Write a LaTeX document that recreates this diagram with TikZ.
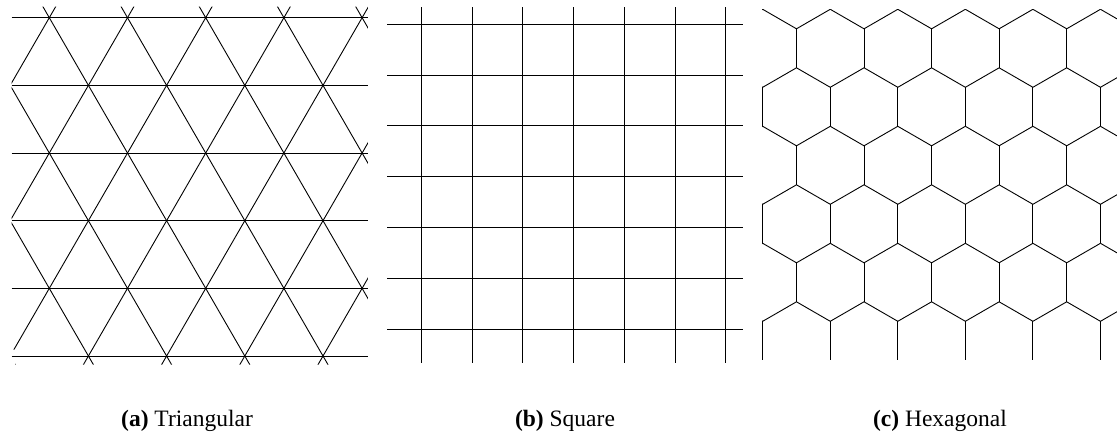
\documentclass[tikz,border=0pt]{standalone}
\usepackage{fontspec}
\setmainfont{Liberation Serif}
\begin{document}
\begin{tikzpicture}[x=1pt,y=-1pt,
  latline/.style={line width=0.9pt,black},
  caplabel/.style={anchor=base,inner sep=0pt,font=\fontsize{23.5}{28}\selectfont}]
\useasboundingbox (0,0) rectangle (1117,439);
% ---------- (a) triangular lattice ----------
\begin{scope}
  \clip (11.7,6.5) -- (367.8,6.5) -- (367.8,364.5) -- (15,364.5) -- (15,349.5) -- (11.7,349.5) -- cycle;
  \foreach \k in {-8,...,12}{
    \draw[latline] ({49.3+78.2*\k-39.1*2},{17.7-67.66*2}) -- ({49.3+78.2*\k+39.1*8},{17.7+67.66*8});
    \draw[latline] ({49.3+78.2*\k+39.1*2},{17.7-67.66*2}) -- ({49.3+78.2*\k-39.1*8},{17.7+67.66*8});
  }
\end{scope}
\foreach \j in {0,...,5}{
  \draw[latline] (11.7,{17.7+67.66*\j}) -- (367.8,{17.7+67.66*\j});
}
% ---------- (b) square lattice ----------
\foreach \j in {0,...,6}{
  \draw[latline] (387.3,{24.3+50.78*\j}) -- (742.7,{24.3+50.78*\j});
  \draw[latline] ({421.3+50.73*\j},7.3) -- ({421.3+50.73*\j},362.7);
}
% ---------- (c) hexagonal lattice ----------
\begin{scope}
  \clip (762.2,9.3) rectangle (1117,360.7);
  \foreach \m in {0,1,2}{
    \foreach \k in {-1,...,6}{
      \pgfmathsetmacro{\xb}{762.7+67.55*\k}
      \pgfmathsetmacro{\xa}{\xb+33.775}
      \pgfmathsetmacro{\xc}{\xb+67.55}
      \pgfmathsetmacro{\yt}{9.3+117*\m}
      \draw[latline] (\xb,\yt) -- (\xa,{\yt+19.5}) -- (\xc,\yt);
      \draw[latline] (\xa,{\yt+19.5}) -- (\xa,{\yt+58.5});
      \draw[latline] (\xb,{\yt+78}) -- (\xa,{\yt+58.5}) -- (\xc,{\yt+78});
      \draw[latline] (\xb,{\yt+78}) -- (\xb,{\yt+117});
    }
  }
\end{scope}
% ---------- captions ----------
\node[caplabel] (capa) at (187,426) {\textbf{(a)} Triangular};
\node[caplabel] (capb) at (565,426) {\textbf{(b)} Square};
\node[caplabel] (capc) at (940,426) {\textbf{(c)} Hexagonal};
\end{tikzpicture}
\end{document}
